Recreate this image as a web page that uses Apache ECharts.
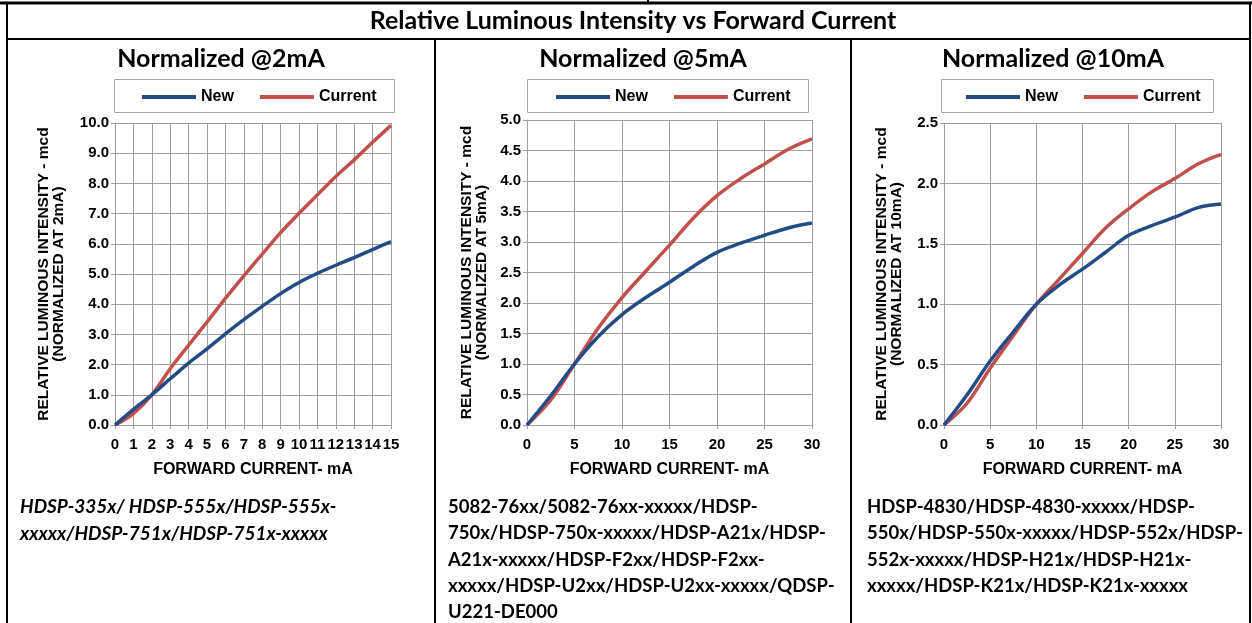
<!DOCTYPE html>
<html><head><meta charset="utf-8">
<script src="https://cdn.jsdelivr.net/npm/echarts@6/dist/echarts.min.js"></script>
<style>html,body{margin:0;padding:0;background:#fff}#c{width:1252px;height:623px}</style>
</head><body><div id="c"></div>
<script>
// ---- text ----
const mainTitle = 'Relative Luminous Intensity vs Forward Current';
const panelTitles = ['Normalized @2mA', 'Normalized @5mA', 'Normalized @10mA'];
const seriesNames = ['New', 'Current'];
const xAxisName = 'FORWARD CURRENT- mA';
const yAxisNames = [
  'RELATIVE LUMINOUS INTENSITY - mcd\n(NORMALIZED AT 2mA)',
  'RELATIVE LUMINOUS INTENSITY - mcd\n(NORMALIZED AT 5mA)',
  'RELATIVE LUMINOUS INTENSITY - mcd\n(NORMALIZED AT 10mA)'
];
const partNumbers1 = ['HDSP-335x/ HDSP-555x/HDSP-555x-', 'xxxxx/HDSP-751x/HDSP-751x-xxxxx'];
const partNumbers2 = ['5082-76xx/5082-76xx-xxxxx/HDSP-', '750x/HDSP-750x-xxxxx/HDSP-A21x/HDSP-',
  'A21x-xxxxx/HDSP-F2xx/HDSP-F2xx-', 'xxxxx/HDSP-U2xx/HDSP-U2xx-xxxxx/QDSP-', 'U221-DE000'];
const partNumbers3 = ['HDSP-4830/HDSP-4830-xxxxx/HDSP-', '550x/HDSP-550x-xxxxx/HDSP-552x/HDSP-',
  '552x-xxxxx/HDSP-H21x/HDSP-H21x-', 'xxxxx/HDSP-K21x/HDSP-K21x-xxxxx'];

// ---- data ----
const current2mA = [0, 1, 2, 3, 4, 5, 6, 7, 8, 9, 10, 11, 12, 13, 14, 15];
const new2mA = [0, 0.52, 1.0, 1.53, 2.05, 2.52, 3.02, 3.49, 3.93, 4.35, 4.72, 5.02, 5.29, 5.54, 5.81, 6.07];
const cur2mA = [0, 0.38, 1.0, 1.86, 2.64, 3.41, 4.19, 4.94, 5.66, 6.37, 7.01, 7.62, 8.23, 8.78, 9.36, 9.92];

const current5mA = [0, 2.5, 5, 7.5, 10, 12.5, 15, 17.5, 20, 22.5, 25, 27.5, 30];
const new5mA = [0, 0.48, 1.0, 1.45, 1.81, 2.09, 2.34, 2.60, 2.83, 2.98, 3.11, 3.23, 3.31];
const cur5mA = [0, 0.41, 1.0, 1.59, 2.09, 2.52, 2.95, 3.39, 3.76, 4.04, 4.28, 4.52, 4.69];

const current10mA = [0, 2.5, 5, 7.5, 10, 12.5, 15, 17.5, 20, 22.5, 25, 27.5, 30];
const new10mA = [0, 0.25, 0.53, 0.77, 1.0, 1.16, 1.29, 1.43, 1.57, 1.65, 1.72, 1.80, 1.83];
const cur10mA = [0, 0.18, 0.47, 0.74, 1.0, 1.21, 1.42, 1.63, 1.79, 1.93, 2.04, 2.16, 2.24];

// axis ranges
const xMax = [15, 30, 30];
const xStep = [1, 5, 5];
const yMax = [10, 5, 2.5];
const yStep = [1, 0.5, 0.5];

// ---- styles ----
const BLUE = '#244B85', RED = '#C0504D', GRID = '#a0a0a0';
const CAL = 'Lato, "Open Sans", sans-serif';
const ARIAL = '"Liberation Sans", Arial, sans-serif';

const panels = [
  {x: current2mA, n: new2mA, c: cur2mA, grid: {left: 115, width: 276, top: 123, height: 302}, legendLeft: 142, legendBox: [114, 79, 280, 33], nameGap: 49},
  {x: current5mA, n: new5mA, c: cur5mA, grid: {left: 527, width: 285, top: 120, height: 305}, legendLeft: 556, legendBox: [527, 79, 281, 33], nameGap: 38},
  {x: current10mA, n: new10mA, c: cur10mA, grid: {left: 944, width: 277, top: 123, height: 302}, legendLeft: 966, legendBox: [941, 79, 272, 33], nameGap: 40}
];
const colCenters = [221, 643, 1053];

const pairs = (xs, ys) => xs.map((v, i) => [v, ys[i]]);

const grids = [], xAxes = [], yAxes = [], series = [], legends = [], graphics = [];
panels.forEach((p, i) => {
  grids.push(Object.assign({containLabel: false}, p.grid));
  xAxes.push({
    type: 'value', gridIndex: i, min: 0, max: xMax[i], interval: xStep[i],
    name: xAxisName, nameLocation: 'middle', nameGap: 37, nameMoveOverlap: false,
    nameTextStyle: {fontFamily: ARIAL, fontWeight: 'bold', fontSize: 16, color: '#000'},
    axisLine: {show: true, lineStyle: {color: GRID, width: 1}},
    axisTick: {show: true, length: 4, lineStyle: {color: GRID}},
    axisLabel: {margin: 12, fontFamily: ARIAL, fontWeight: 'bold', fontSize: 15, color: '#000', showMaxLabel: true, showMinLabel: true, hideOverlap: false},
    splitLine: {show: true, lineStyle: {color: GRID, width: 1}}
  });
  yAxes.push({
    type: 'value', gridIndex: i, min: 0, max: yMax[i], interval: yStep[i],
    name: yAxisNames[i], nameLocation: 'middle', nameRotate: 90, nameGap: p.nameGap, nameMoveOverlap: false,
    nameTextStyle: {fontFamily: ARIAL, fontWeight: 'bold', fontSize: 15.5, lineHeight: 15, color: '#000', align: 'center'},
    axisLine: {show: true, lineStyle: {color: GRID, width: 1}},
    axisTick: {show: true, length: 4, lineStyle: {color: GRID}},
    axisLabel: {margin: 6, fontFamily: ARIAL, fontWeight: 'bold', fontSize: 15, color: '#000', formatter: v => v.toFixed(1), hideOverlap: false},
    splitLine: {show: true, lineStyle: {color: GRID, width: 1}}
  });
  [[p.n, BLUE, 0], [p.c, RED, 1]].forEach(([ys, col, k]) => {
    series.push({
      type: 'line', name: seriesNames[k], xAxisIndex: i, yAxisIndex: i,
      data: pairs(p.x, ys), smooth: 0.35, symbol: 'none', showSymbol: false,
      lineStyle: {color: col, width: 3.5}, itemStyle: {color: col}, z: k === 0 ? 3 : 2,
      animation: false
    });
  });
  legends.push({
    data: seriesNames, left: p.legendLeft, top: 89, orient: 'horizontal',
    icon: 'rect', itemWidth: 54, itemHeight: 4, itemGap: 26, padding: 0,
    textStyle: {fontFamily: ARIAL, fontWeight: 'bold', fontSize: 16, color: '#000', padding: [0, 0, 0, 0]},
    selectedMode: false
  });
  const b = p.legendBox;
  graphics.push({type: 'rect', shape: {x: b[0] + 0.5, y: b[1] + 0.5, width: b[2], height: b[3]}, style: {fill: 'none', stroke: '#a6a6a6', lineWidth: 1}, silent: true});
  graphics.push({type: 'text', x: colCenters[i], y: 59, style: {text: panelTitles[i], font: 'bold 25px ' + CAL, fill: '#000', align: 'center', verticalAlign: 'middle'}});
});

// table borders
const L = (x1, y1, x2, y2, w) => ({type: 'line', shape: {x1, y1, x2, y2}, style: {stroke: '#000', lineWidth: w || 2}, silent: true});
graphics.push(L(0, 3, 1252, 3, 3));
graphics.push(L(648, 0, 648, 3, 2));
graphics.push(L(7, 3, 7, 623));
graphics.push(L(1250, 3, 1250, 623));
graphics.push(L(7, 39, 1250, 39));
graphics.push(L(435, 39, 435, 623));
graphics.push(L(851, 39, 851, 623));
graphics.push({type: 'text', x: 633, y: 21, style: {text: mainTitle, font: 'bold 25px ' + CAL, fill: '#000', align: 'center', verticalAlign: 'middle'}});
// part numbers
const partBlock = (lines, x, italic, size) => ({type: 'text', x, y: 494, style: {text: lines.join('\n'), font: (italic ? 'italic ' : '') + 'bold ' + size + 'px ' + CAL, lineHeight: 26.3, fill: '#000', align: 'left', verticalAlign: 'top'}});
graphics.push(partBlock(partNumbers1, 20, true, 19));
graphics.push(partBlock(partNumbers2, 448, false, 18.5));
graphics.push(partBlock(partNumbers3, 867, false, 18.5));

const chart = echarts.init(document.getElementById('c'), null, {renderer: 'canvas'});
chart.setOption({
  backgroundColor: '#fff', animation: false,
  grid: grids, xAxis: xAxes, yAxis: yAxes, series, legend: legends,
  graphic: graphics
});
</script></body></html>
